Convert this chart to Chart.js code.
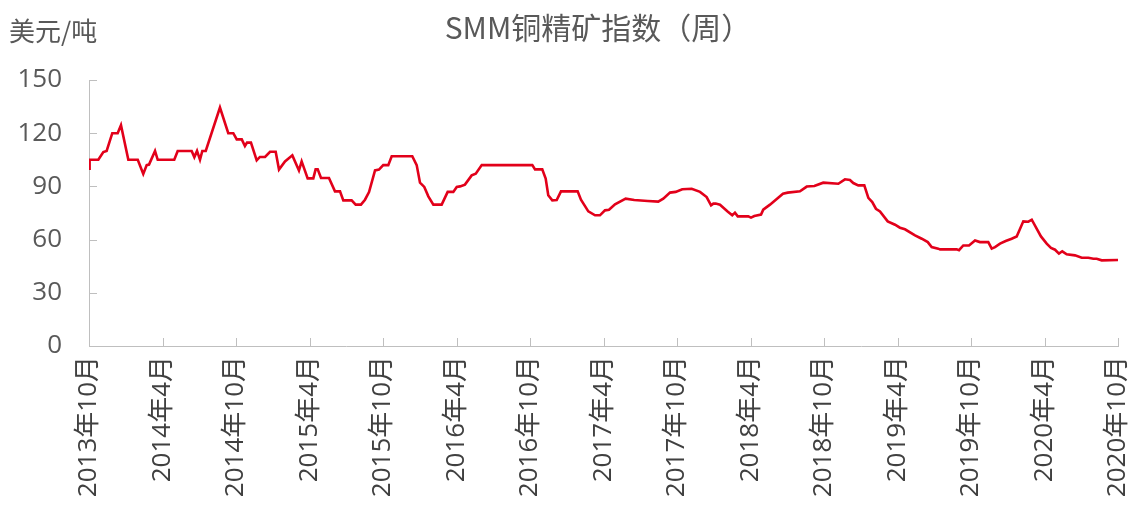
<!DOCTYPE html>
<html>
<head>
<meta charset="utf-8">
<script src="https://cdn.jsdelivr.net/npm/chart.js@4.4.0/dist/chart.umd.min.js"></script>
<style>
    html, body { margin: 0; padding: 0; background: #fff; }
</style>
</head>
<body>
<canvas id="smmChart" width="1134" height="508"></canvas>
<script>
// x = months since 2013-10, y = index (USD/t)
const tickLabels = ['2013年10月', '2014年4月', '2014年10月', '2015年4月', '2015年10月', '2016年4月', '2016年10月',
    '2017年4月', '2017年10月', '2018年4月', '2018年10月', '2019年4月', '2019年10月', '2020年4月', '2020年10月'];

const months = [0, 0.05, 0.76, 1.17, 1.44, 1.9, 2.34, 2.61, 3.21, 3.98, 4.43, 4.71, 4.9, 5.39, 5.61, 6.96, 7.24,
    8.38, 8.6, 8.82, 9.06, 9.25, 9.53, 10.69, 11.37, 11.78, 12.06, 12.47, 12.73, 12.9, 13.22, 13.69, 13.95, 14.37,
    14.78, 15.24, 15.51, 16.0, 16.6, 17.14, 17.36, 17.85, 18.31, 18.5, 18.67, 18.94, 19.59, 20.08, 20.49, 20.76,
    21.44, 21.77, 22.2, 22.53, 22.86, 23.35, 23.67, 24.02, 24.43, 24.71, 26.39, 26.75, 27.02, 27.37, 27.7, 28.11,
    28.79, 29.28, 29.74, 30.02, 30.29, 30.69, 31.24, 31.57, 32.06, 36.19, 36.41, 37.0, 37.28, 37.49, 37.82, 38.18,
    38.53, 39.89, 40.16, 40.76, 41.31, 41.71, 42.12, 42.45, 42.94, 43.81, 44.51, 45.61, 46.47, 46.88, 47.43, 47.89,
    48.43, 49.2, 49.88, 50.42, 50.78, 50.97, 51.16, 51.51, 52.13, 52.51, 52.73, 52.96, 53.82, 54.04, 54.31, 54.86,
    55.04, 55.59, 56.65, 57.04, 58.04, 58.59, 59.21, 59.94, 61.17, 61.71, 62.12, 62.39, 62.8, 63.29, 63.62, 63.94,
    64.24, 64.57, 65.2, 65.8, 66.2, 66.61, 67.43, 67.98, 68.47, 68.79, 69.33, 69.47, 70.83, 71.02, 71.37, 71.84,
    72.33, 72.73, 73.41, 73.69, 73.96, 74.37, 74.83, 75.32, 75.73, 76.27, 76.68, 76.96, 77.71, 78.18, 78.53, 78.86,
    79.18, 79.45, 79.81, 80.49, 81.04, 81.58, 81.99, 82.26, 82.67, 84.0];

const indexValues = [100, 105, 105, 109.4, 110, 120, 120, 124.5, 105, 105, 97, 102, 102.3, 110, 105, 105, 110,
    110, 106.5, 110, 105, 110, 110, 134.5, 120, 120, 116.5, 116.5, 112.8, 114.7, 114.7, 104.7, 106.6, 106.6,
    109.5, 109.5, 99.5, 104.1, 107.5, 99, 104.1, 94.5, 94.5, 99.6, 99.6, 94.7, 94.7, 87.2, 87.2, 82.1,
    82.1, 79.7, 79.7, 82.5, 86.8, 99, 99.5, 102, 102, 107, 107, 102, 92.1, 89.7, 84.4, 79.7,
    79.7, 86.9, 86.9, 89.7, 90, 91, 96.2, 97.2, 102, 102, 99.6, 99.6, 94.4, 85, 82.1, 82.3,
    87.2, 87.2, 82.5, 75.9, 73.7, 73.7, 76.5, 76.8, 79.9, 83.1, 82.3, 81.8, 81.4, 83.1, 86.5, 86.9,
    88.4, 88.7, 86.9, 84, 79.3, 80.3, 80.3, 79.7, 75.9, 73.7, 75.2, 73.1, 73.1, 72.4, 73.3, 74.1,
    76.9, 79.7, 85.9, 86.5, 87.2, 89.9, 90.2, 92.1, 91.5, 94, 93.6, 91.9, 90.6, 90.6, 83.5, 81.2,
    77.4, 75.9, 70.3, 68.4, 66.7, 65.8, 62.4, 60.5, 58.6, 55.8, 54.9, 54.5, 54.5, 54, 56.7, 56.7,
    59.5, 58.6, 58.6, 54.9, 55.8, 57.7, 59.2, 60.5, 61.8, 70.3, 70.1, 71.2, 61.8, 57.7, 55.3, 54.3,
    52.1, 53.4, 51.7, 51.1, 49.8, 49.8, 49.2, 49.2, 48.3, 48.5];

const textColor = '#595959';
const axisColor = '#bfbfbf';
const cjkFont = '"Noto Sans CJK SC", "Noto Sans", sans-serif';
const tickFont = '"Open Sans", "Noto Sans CJK SC", sans-serif';

// title, unit and inside tick marks
const decorPlugin = {
    id: 'decor',
    afterDraw(chart) {
        const ctx = chart.ctx;
        const area = chart.chartArea;
        const xs = chart.scales.x;
        const ys = chart.scales.y;
        ctx.save();
        ctx.strokeStyle = axisColor;
        ctx.lineWidth = 1;
        ctx.beginPath();
        for (let m = 0; m <= 84; m += 6) {
            const px = Math.round(xs.getPixelForValue(m)) + 0.5;
            ctx.moveTo(px, area.bottom);
            ctx.lineTo(px, area.bottom - 8);
        }
        for (let v = 0; v <= 150; v += 30) {
            const py = Math.round(ys.getPixelForValue(v)) + 0.5;
            ctx.moveTo(area.left, py);
            ctx.lineTo(area.left + 8, py);
        }
        ctx.stroke();

        ctx.fillStyle = textColor;
        ctx.textBaseline = 'middle';
        ctx.font = '30px ' + cjkFont;
        ctx.textAlign = 'center';
        ctx.fillText('SMM铜精矿指数（周）', 598, 28);
        ctx.font = '26px ' + cjkFont;
        ctx.textAlign = 'left';
        ctx.fillText('美元/吨', 9, 31);
        ctx.restore();
    }
};

const ctx = document.getElementById('smmChart').getContext('2d');
new Chart(ctx, {
    type: 'line',
    data: {
        datasets: [{
            label: 'SMM铜精矿指数',
            data: months.map((m, i) => ({ x: m, y: indexValues[i] })),
            borderColor: '#e2001a',
            borderWidth: 2.6,
            pointRadius: 0,
            tension: 0,
            fill: false
        }]
    },
    options: {
        responsive: false,
        animation: false,
        layout: { padding: { top: 80, right: 16, left: 0, bottom: 0 } },
        plugins: {
            legend: { display: false },
            tooltip: { enabled: false }
        },
        scales: {
            x: {
                type: 'linear',
                min: 0,
                max: 84,
                afterFit: scale => {
                    scale.height = 162;
                    scale.paddingLeft = 0;
                    scale.paddingRight = 0;
                },
                afterBuildTicks: scale => {
                    scale.ticks = tickLabels.map((_, i) => ({ value: i * 6 }));
                },
                grid: { display: false, drawTicks: false },
                border: { display: true, color: axisColor },
                ticks: {
                    autoSkip: false,
                    minRotation: 90,
                    maxRotation: 90,
                    padding: 10,
                    color: '#404040',
                    font: { size: 26, family: tickFont },
                    callback: value => tickLabels[Math.round(value / 6)]
                }
            },
            y: {
                min: 0,
                max: 150,
                afterFit: scale => {
                    scale.width = 89;
                    scale.paddingTop = 0;
                    scale.paddingBottom = 0;
                },
                grid: { display: false, drawTicks: false },
                border: { display: true, color: axisColor },
                ticks: {
                    stepSize: 30,
                    padding: 27,
                    color: textColor,
                    font: { size: 26, family: tickFont }
                }
            }
        }
    },
    plugins: [decorPlugin]
});
</script>
</body>
</html>
